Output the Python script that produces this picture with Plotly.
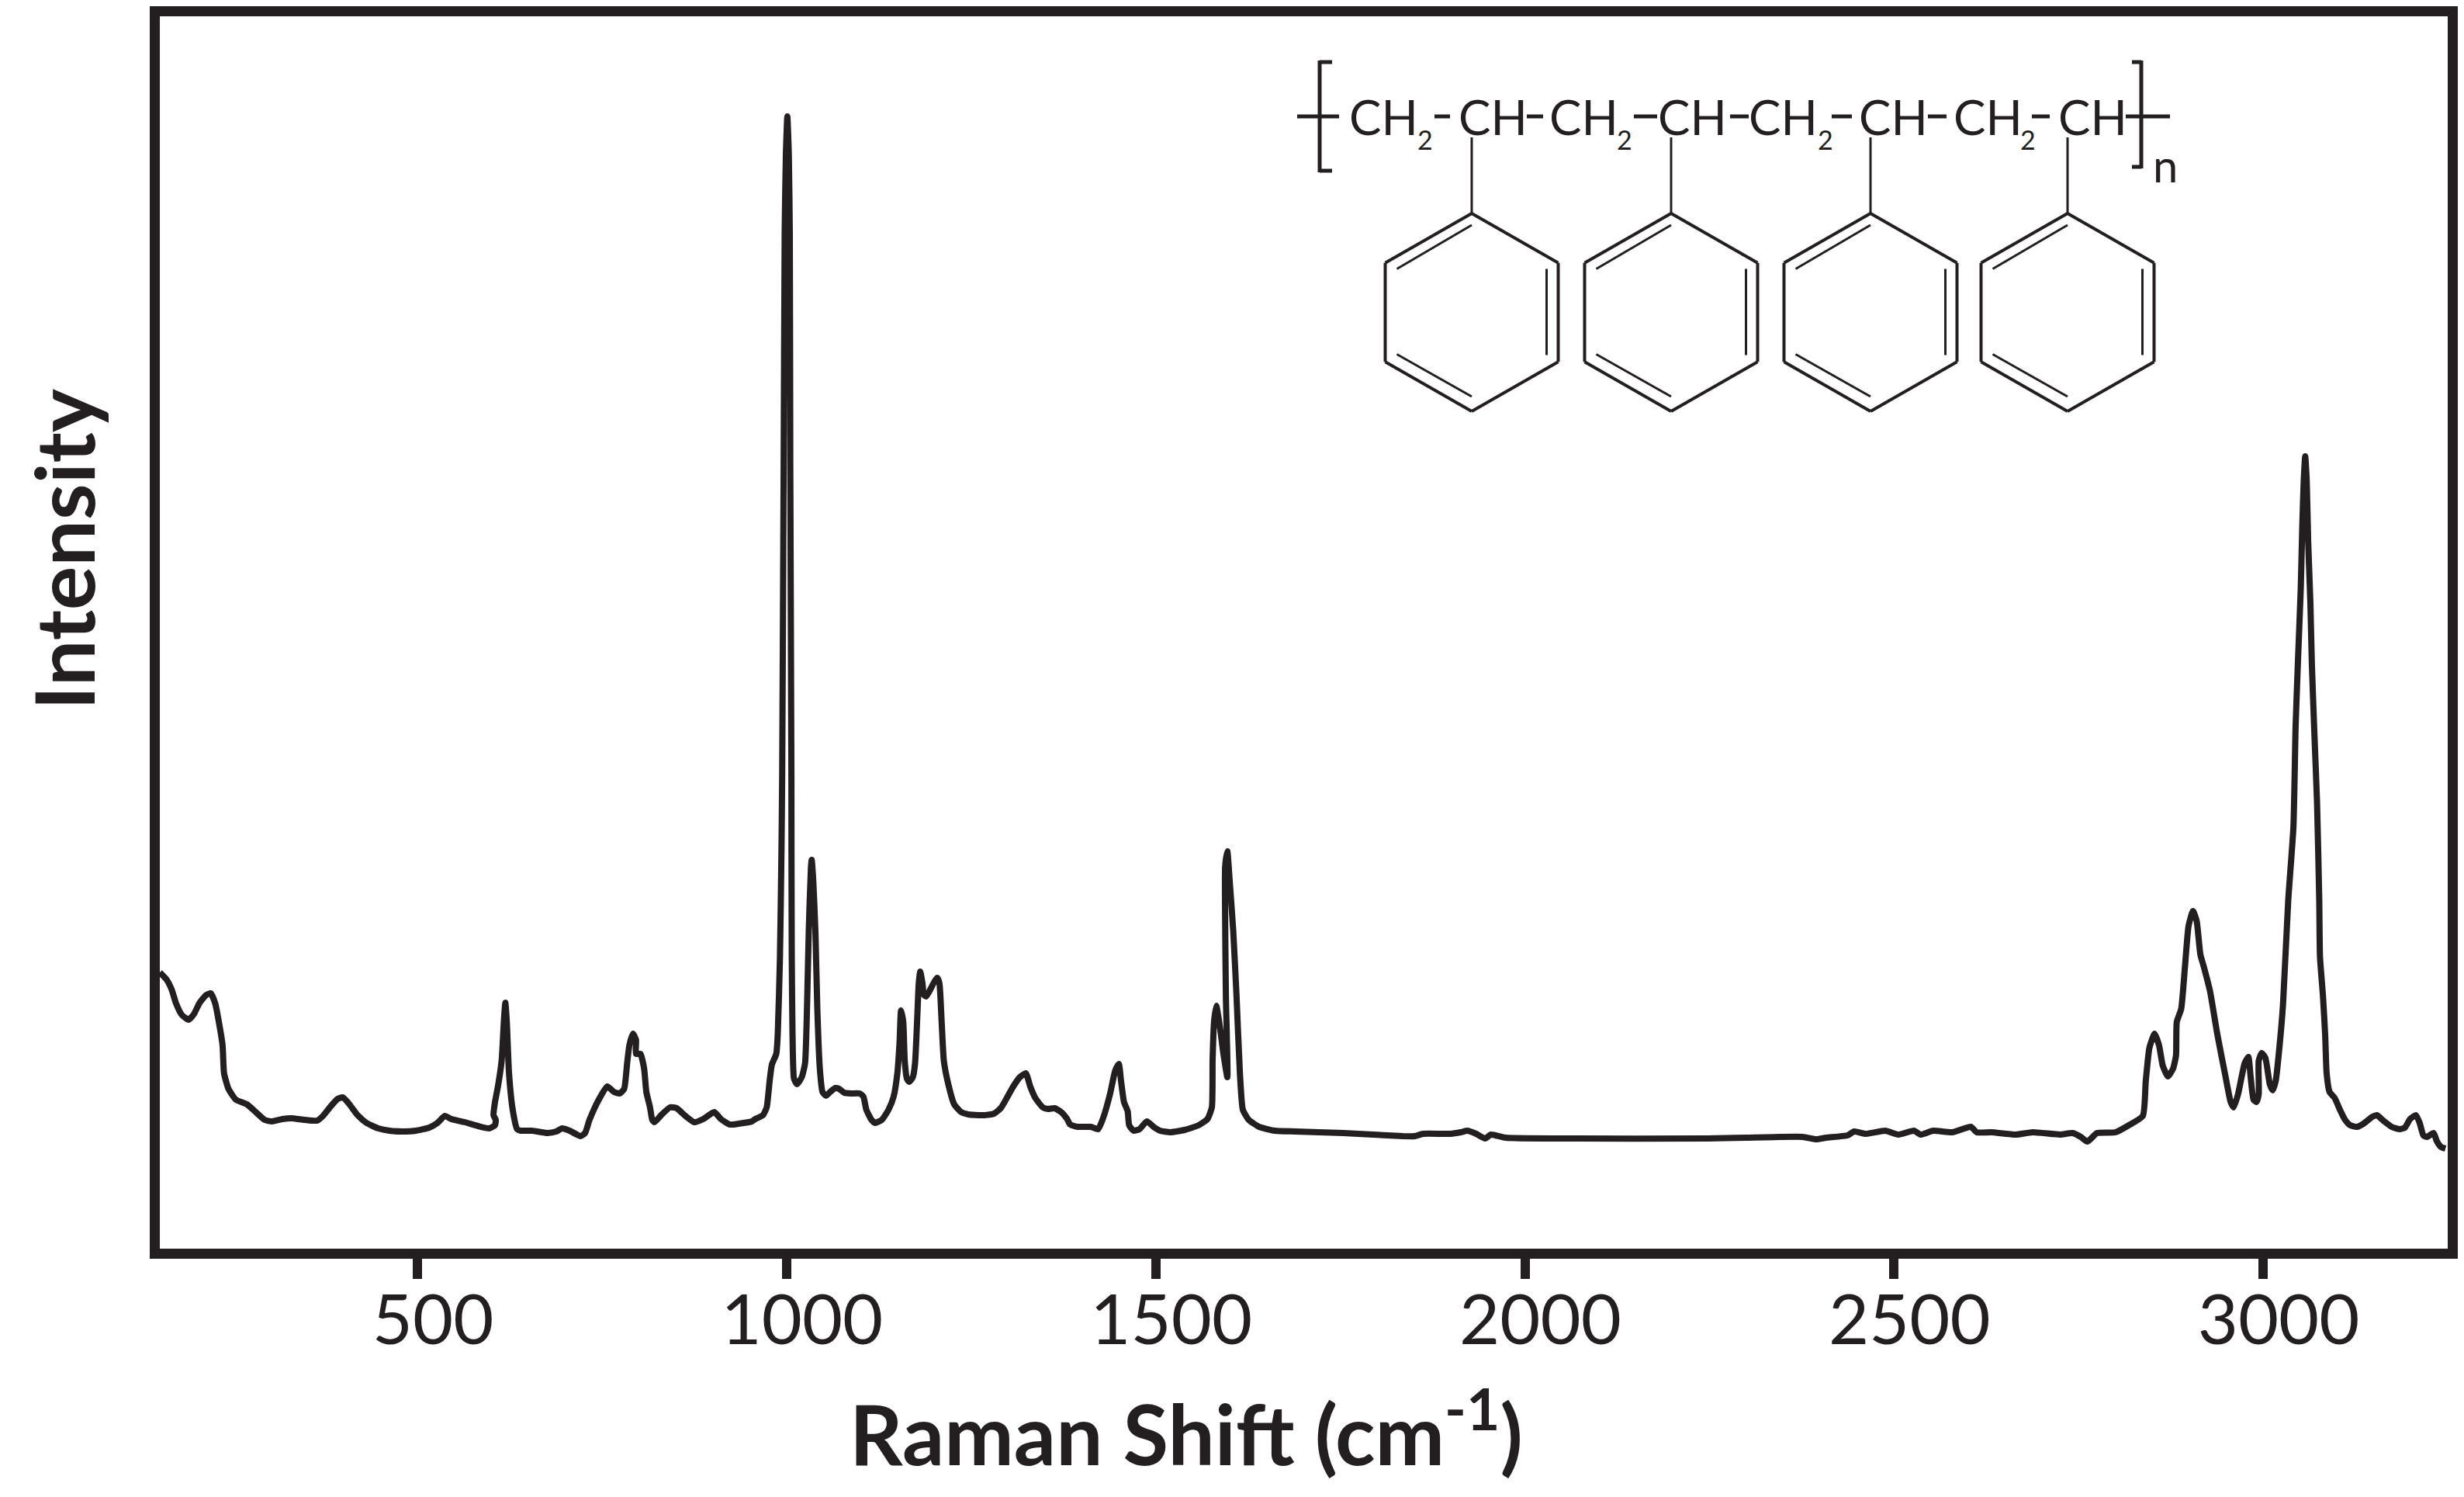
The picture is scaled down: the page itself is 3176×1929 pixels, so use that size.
import plotly.graph_objects as go

INK = '#231f20'

# polystyrene spectrum (intensity is in arbitrary units)
raman_shift = [
    151, 160, 167, 173, 181, 190, 197, 205, 214, 220, 226, 231, 236, 238, 244, 254, 269, 281, 293, 303,
    317, 329, 347, 364, 372, 383, 392, 399, 407, 419, 431, 447, 462, 480, 498, 516, 527, 537, 546, 564,
    582, 597, 605, 606, 603, 605, 609, 614, 617, 619, 621, 624, 629, 635, 640, 655, 676, 688, 696, 706,
    721, 727, 733, 745, 757, 766, 774, 780, 784, 787, 792, 796, 796, 802, 807, 810, 815, 818, 821, 830,
    842, 851, 863, 875, 887, 902, 911, 923, 935, 953, 957.5, 968, 973, 977, 980, 986, 988, 991, 993, 994,
    996, 997.4, 999, 1001, 1003, 1004.3, 1005, 1006.5, 1006.6, 1007, 1008, 1010, 1014, 1020.5, 1025, 1027.6, 1030, 1033, 1034, 1036,
    1039, 1041.6, 1045, 1048.6, 1053.5, 1059, 1066, 1071, 1078, 1087, 1099, 1104, 1108, 1115, 1120, 1129, 1138, 1145, 1150, 1153,
    1155, 1158, 1160, 1163, 1166, 1171, 1174, 1177, 1179, 1181, 1184, 1186, 1189, 1193, 1199, 1204, 1207, 1210, 1213, 1219,
    1227, 1236.5, 1246, 1265, 1281, 1290, 1297, 1307, 1316, 1324, 1330, 1337, 1347, 1354, 1363, 1372, 1380, 1384, 1394, 1412,
    1422, 1429, 1438, 1445, 1450, 1453, 1457, 1462, 1464, 1470, 1478, 1488, 1497, 1506, 1520, 1539, 1558, 1570, 1576, 1577,
    1579, 1582, 1586, 1592, 1597, 1595, 1594, 1594, 1597, 1600, 1605, 1609.4, 1614, 1618, 1626, 1640, 1661, 1689, 1721, 1754,
    1835, 1851, 1862, 1899, 1913, 1922, 1934, 1946, 1954, 1974, 2049, 2247, 2299, 2376, 2395, 2408, 2437, 2446, 2462, 2488,
    2506, 2527, 2536, 2553, 2579, 2604, 2612, 2632, 2665, 2688, 2725, 2742, 2753, 2762, 2775, 2800, 2818, 2837, 2841, 2846,
    2853, 2859, 2864, 2871, 2878, 2882, 2883, 2889, 2894, 2899, 2905, 2910, 2915, 2920, 2928, 2938, 2949, 2956, 2960, 2966,
    2975, 2980, 2983, 2987, 2991, 2994, 2994, 2998, 3003, 3009, 3013, 3017, 3023, 3027, 3034, 3041, 3044, 3047, 3051, 3053,
    3055, 3057, 3059, 3061, 3064, 3066, 3069, 3073, 3076, 3077, 3081, 3084, 3086, 3090, 3097, 3104, 3111, 3118, 3127, 3136,
    3148, 3154, 3164, 3174, 3185, 3192, 3199, 3207, 3212, 3217, 3222, 3231, 3235, 3241, 3247,
]
intensity = [
    356, 347, 334, 316, 301, 295, 302, 317, 327, 329, 316, 292, 262, 226, 206, 192, 186, 176, 166, 164,
    167, 168, 166, 165, 171, 184, 193, 195, 187, 172, 162, 155, 152, 151, 152, 156, 162, 171, 167, 163,
    158, 155, 159, 166, 172, 189, 209, 242, 292, 317, 292, 226, 179, 154, 152, 152, 149, 151, 155, 152,
    145, 149, 166, 191, 209, 202, 200, 206, 239, 262, 277, 269, 251, 251, 232, 202, 182, 166, 163, 172,
    182, 181, 171, 163, 167, 176, 167, 160, 161, 164, 167, 172, 182, 216, 237, 251, 276, 376, 509, 609,
    1009, 1309, 1409, 1459, 1409, 1309, 1009, 609, 509, 376, 276, 219, 212, 221, 239, 309, 409, 492, 501, 476,
    409, 309, 232, 202, 197, 202, 207, 206, 201, 200, 200, 196, 179, 166, 162, 166, 179, 196, 226, 266,
    307, 292, 242, 219, 215, 221, 239, 299, 342, 357, 342, 327, 325, 331, 342, 349, 342, 292, 242, 212,
    186, 176, 173, 172, 174, 181, 192, 209, 221, 226, 209, 194, 182, 180, 181, 176, 167, 160, 157, 157,
    154, 169, 199, 229, 238, 216, 189, 177, 159, 152, 154, 164, 157, 152, 150, 153, 159, 167, 182, 242,
    292, 313, 292, 249, 221, 326, 426, 492, 512, 476, 409, 326, 226, 179, 166, 157, 152, 151, 150, 149,
    145, 145, 148, 148, 150, 152, 148, 142, 147, 143, 142, 142, 143, 144, 141, 143, 146, 151, 148, 152,
    147, 152, 147, 152, 150, 157, 150, 150, 147, 150, 147, 149, 144, 138, 149, 150, 159, 171, 216, 259,
    277, 262, 236, 222, 232, 249, 292, 309, 362, 416, 435, 422, 379, 362, 332, 276, 222, 189, 182, 199,
    239, 247, 222, 192, 189, 199, 242, 252, 246, 212, 204, 216, 269, 316, 449, 543, 674, 753, 852, 931,
    990, 1021, 990, 911, 832, 753, 674, 575, 449, 376, 326, 276, 226, 202, 194, 179, 166, 159, 157, 161,
    170, 172, 164, 157, 154, 156, 167, 172, 162, 146, 144, 149, 139, 131, 129,
]

tick_values = [500, 1000, 1500, 2000, 2500, 3000]

# polymer chain labels along the top of the inset
chain_labels = ['CH', 'CH', 'CH', 'CH', 'CH', 'CH', 'CH', 'CH']
chain_x = [1783, 1924, 2042, 2181, 2298, 2440, 2562, 2697]
sub2_x = [1837, 2094, 2353, 2614]
bond_spans = [(1672, 1726), (1849, 1869), (1968, 1989), (2106, 2136),
              (2230, 2254), (2361, 2387), (2485, 2509), (2619, 2642), (2740, 2797)]
ring_x = [1897, 2154, 2411, 2665]

# the page's body margin pushes the figure 8px right and down
PAGE = 8
W, H = 3176 - PAGE, 1929 - PAGE
L, R, T, B = 206, 3155, 21, 1609


def px(x):
    return (x - L) / (R - L)


def py(y):
    return (B - y) / (B - T)


def seg(x0, y0, x1, y1, w=4):
    return dict(type='line', xref='paper', yref='paper', x0=px(x0), y0=py(y0), x1=px(x1), y1=py(y1),
                line=dict(color=INK, width=w))


def label(x, y, text, size, weight=400, **kw):
    return dict(xref='paper', yref='paper', x=px(x), y=py(y), text=text, showarrow=False,
                xanchor='center', yanchor='middle',
                font=dict(family='Lato', size=size, color=INK, weight=weight), **kw)


shapes = []
for a, b in bond_spans:
    shapes.append(seg(a, 150, b, 150, 5))
# brackets
shapes += [seg(1717, 80, 1701, 80, 5), seg(1701, 78, 1701, 222, 5), seg(1701, 220, 1717, 220, 5)]
shapes += [seg(2748, 80, 2760, 80, 5), seg(2760, 78, 2760, 217, 5), seg(2760, 215, 2748, 215, 5)]

cy = 402.5
hw, rad = 111.5, 127.5
for cx in ring_x:
    shapes.append(seg(cx, 177, cx, cy - rad, 3))
    hexagon = [(cx, cy - rad), (cx + hw, cy - rad / 2), (cx + hw, cy + rad / 2),
               (cx, cy + rad), (cx - hw, cy + rad / 2), (cx - hw, cy - rad / 2)]
    for i in range(6):
        p, q = hexagon[i], hexagon[(i + 1) % 6]
        shapes.append(seg(p[0], p[1], q[0], q[1], 4))
    # inner double bonds
    shapes.append(seg(cx + hw - 15, cy - 56, cx + hw - 15, cy + 55, 3))
    shapes.append(seg(cx - hw + 15, cy - 56, cx, cy - rad + 15, 3))
    shapes.append(seg(cx - hw + 15, cy + 54, cx, cy + rad - 19, 3))

annotations = [label(1529, 1840, 'Raman Shift (cm<sup>-1</sup>)', 107, weight=700),
               label(81, 708, 'Intensity', 106, weight=700, textangle=-90)]
for cx, t in zip(chain_x, chain_labels):
    annotations.append(label(cx, 150, t, 62))
for cx in sub2_x:
    annotations.append(label(cx, 180, '2', 34))
annotations.append(label(2791, 212, 'n', 58))

fig = go.Figure(go.Scatter(x=raman_shift, y=intensity, mode='lines',
                           line=dict(color=INK, width=8, shape='spline', smoothing=0.5), hoverinfo='skip'))
fig.update_layout(
    width=W, height=H,
    margin=dict(l=L - PAGE, r=W - (R - PAGE), t=T - PAGE, b=H - (B - PAGE), pad=0),
    paper_bgcolor='white', plot_bgcolor='white',
    showlegend=False, shapes=shapes, annotations=annotations,
)
fig.update_xaxes(range=[151, 3250], tickvals=tick_values, ticks='outside', ticklen=26, tickwidth=12,
                 tickcolor=INK, showgrid=False, zeroline=False, showline=True, linewidth=13,
                 linecolor=INK, mirror=True, automargin=False, ticklabelstandoff=-24, ticklabelshift=20,
                 tickfont=dict(family='Lato', size=90, color=INK))
fig.update_yaxes(range=[0, 1588], showticklabels=False, ticks='', showgrid=False, zeroline=False,
                 showline=True, linewidth=13, linecolor=INK, mirror=True, automargin=False)

fig.write_html("out.html")
